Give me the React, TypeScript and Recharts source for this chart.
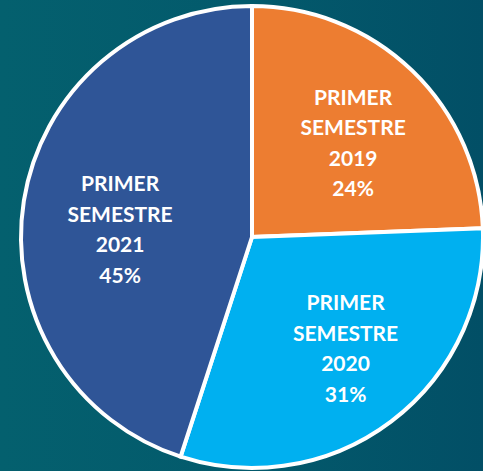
import { PieChart, Pie, Cell } from 'recharts'

const semesters = ['PRIMER SEMESTRE 2019', 'PRIMER SEMESTRE 2020', 'PRIMER SEMESTRE 2021']
const shares = [24.4, 30.6, 45.0]
const colors = ['#ED7D31', '#00B0F0', '#2F5597']

// small nudges so labels sit where the original placed them
const labelNudge = [
  [5, 5],
  [10, 0],
  [5, 13],
]

const data = semesters.map((name, i) => ({ name, value: shares[i] }))

const RADIAN = Math.PI / 180

function SliceLabel(props: any) {
  const { cx, cy, midAngle, outerRadius, percent, name, index } = props
  const r = outerRadius * 0.6
  const [nx, ny] = labelNudge[index] ?? [0, 0]
  const x = cx + r * Math.cos(-midAngle * RADIAN) + nx
  const y = cy + r * Math.sin(-midAngle * RADIAN) + ny
  const words = String(name).split(' ')
  const lines = [words[0], words[1], words[2], `${Math.round(percent * 100)}%`]
  const step = 30.5
  return (
    <text
      x={x}
      y={y}
      fill="#fff"
      textAnchor="middle"
      fontFamily="Lato, 'Open Sans', sans-serif"
      fontWeight={700}
      fontSize={21}
    >
      {lines.map((l, i) => (
        <tspan key={i} x={x} y={y + (i - 1.5) * step} dominantBaseline="central">
          {l}
        </tspan>
      ))}
    </text>
  )
}

export default function App() {
  return (
    <div
      style={{
        width: 483,
        height: 471,
        background: 'linear-gradient(90deg, #04606E 0%, #035A6C 50%, #024F66 100%)',
        overflow: 'hidden',
      }}
    >
      <style>{`body{margin:0}.recharts-pie-sectors{filter:drop-shadow(0 3px 4px rgba(0,0,0,0.45))}`}</style>
      <PieChart width={483} height={471} margin={{ top: 0, right: 0, bottom: 0, left: 0 }}>
        <Pie
          data={data}
          dataKey="value"
          nameKey="name"
          cx={252}
          cy={237}
          outerRadius={231}
          startAngle={90}
          endAngle={-270}
          stroke="#fff"
          strokeWidth={4}
          labelLine={false}
          label={SliceLabel}
          isAnimationActive={false}
        >
          {data.map((d, i) => (
            <Cell key={d.name} fill={colors[i]} />
          ))}
        </Pie>
      </PieChart>
    </div>
  )
}
